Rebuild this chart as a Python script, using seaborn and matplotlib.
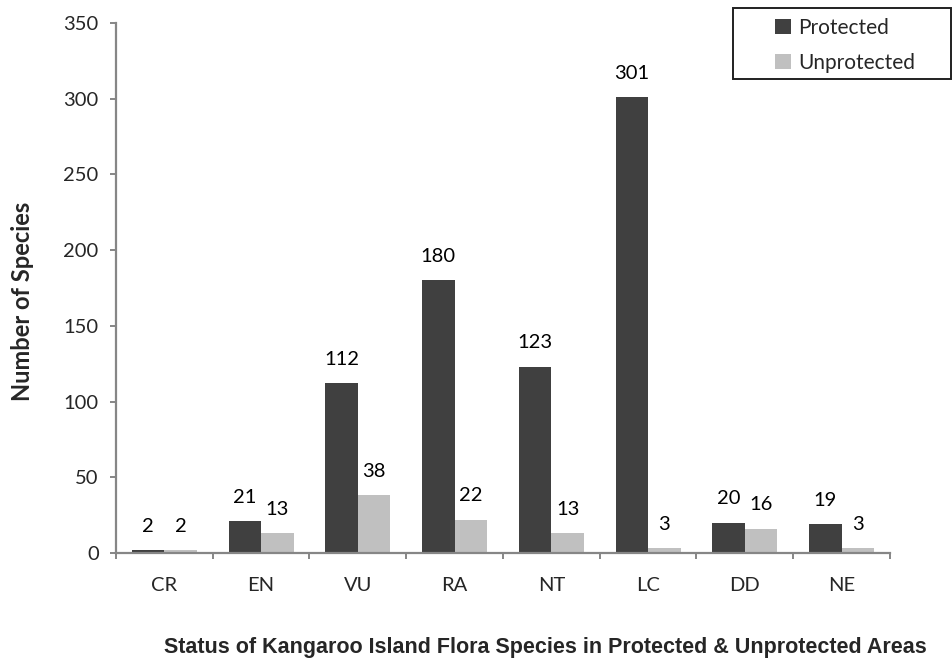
import matplotlib
matplotlib.use("Agg")
import matplotlib.pyplot as plt
from matplotlib.patches import Rectangle
from matplotlib.ticker import FixedLocator
import seaborn as sns
import pandas as pd

# Conservation status categories and species counts
statuses = ["CR", "EN", "VU", "RA", "NT", "LC", "DD", "NE"]
protected = [2, 21, 112, 180, 123, 301, 20, 19]
unprotected = [2, 13, 38, 22, 13, 3, 16, 3]
series_names = ["Protected", "Unprotected"]
y_ticks = [0, 50, 100, 150, 200, 250, 300, 350]

df = pd.DataFrame({
    "Status": statuses * 2,
    "Species": protected + unprotected,
    "Area": [series_names[0]] * len(statuses) + [series_names[1]] * len(statuses),
})

sns.set_style("white")
plt.rcParams["font.family"] = ["Lato", "DejaVu Sans"]

W, H = 953, 659
fig = plt.figure(figsize=(W / 100, H / 100), dpi=100)
ax = fig.add_axes([116 / W, 1 - 553 / H, (890 - 116) / W, (553 - 23) / H])

dark, light = "#404040", "#c0c0c0"
sns.barplot(data=df, x="Status", y="Species", hue="Area", order=statuses,
            hue_order=series_names, palette=[dark, light], width=0.67,
            saturation=1, linewidth=0, ax=ax)

fs = 14.5
for cont in ax.containers:
    ax.bar_label(cont, padding=11, fontsize=fs, color="black")

ax.set_xlim(-0.5, len(statuses) - 0.5)
ax.set_ylim(0, 350)
ax.set_yticks(y_ticks)

spine_c = "#868686"
for side in ["top", "right"]:
    ax.spines[side].set_visible(False)
for side in ["left", "bottom"]:
    ax.spines[side].set_color(spine_c)
    ax.spines[side].set_linewidth(1.6)

ax.tick_params(axis="y", which="major", length=4.5, width=1.4, color=spine_c,
               direction="out", left=True, pad=8, labelsize=fs)
ax.tick_params(axis="x", which="major", length=0, pad=17, labelsize=fs)
ax.xaxis.set_minor_locator(FixedLocator([i - 0.5 for i in range(len(statuses) + 1)]))
ax.tick_params(axis="x", which="minor", length=4.5, width=1.4, color=spine_c,
               direction="out", bottom=True)

ax.set_ylabel("Number of Species", fontsize=17, fontweight="bold")
ax.yaxis.set_label_coords((23 - 116) / 774, (553 - 301) / 530)
ax.yaxis.label.set_verticalalignment("center")
ax.yaxis.label.set_horizontalalignment("center")

ax.set_xlabel("Status of Kangaroo Island Flora Species in Protected & Unprotected Areas",
              fontsize=15.5, fontweight="bold", family=["Liberation Sans", "DejaVu Sans"])
ax.xaxis.set_label_coords((545 - 116) / 774, (553 - 648) / 530)
ax.xaxis.label.set_verticalalignment("center")

# Legend with a boxed frame at the top right of the figure
handles, labels = ax.get_legend_handles_labels()
ax.get_legend().remove()
fig.legend(handles, labels, loc="upper left",
           bbox_to_anchor=(775 / W, 1 - 18 / H), frameon=False,
           fontsize=fs + 0.5, handlelength=0.75, handleheight=0.75,
           handletextpad=0.35, labelspacing=0.7, borderpad=0, borderaxespad=0)
fig.patches.append(Rectangle((733 / W, 1 - 79 / H), (951 - 733) / W, (79 - 8) / H,
                             transform=fig.transFigure, fill=False,
                             edgecolor="#202020", linewidth=1.4))

fig.savefig("out.png", dpi=100, facecolor="white")
